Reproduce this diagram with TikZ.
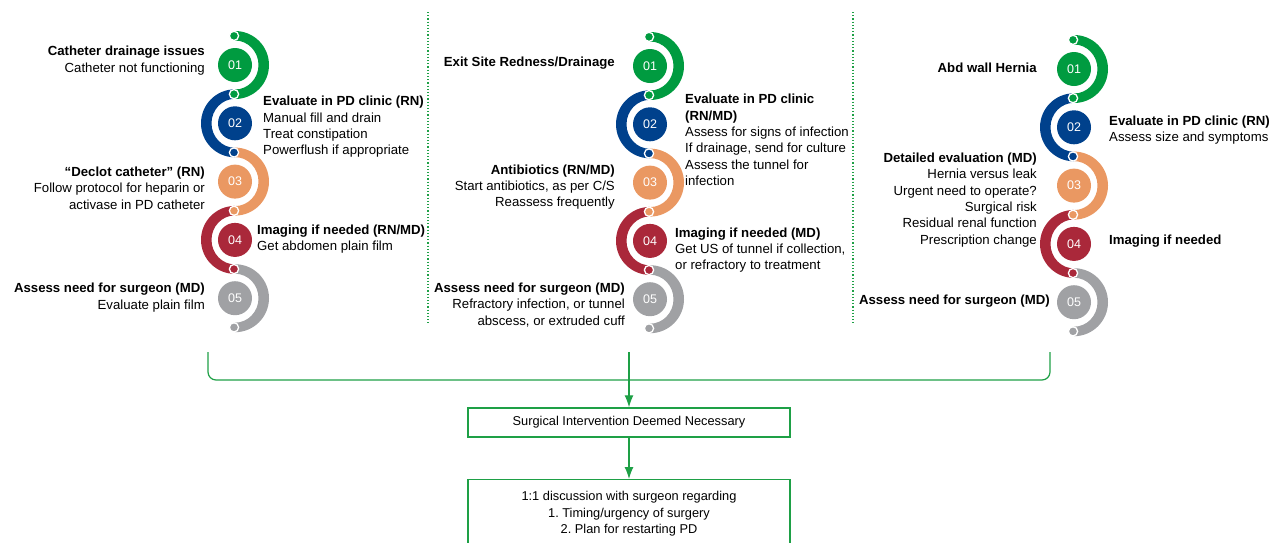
\documentclass[tikz,border=0pt]{standalone}
\usepackage{fontspec}
\setmainfont{Liberation Sans}
\usetikzlibrary{arrows.meta}
\definecolor{stepgreen}{RGB}{0,155,64}
\definecolor{stepblue}{RGB}{0,65,140}
\definecolor{steporange}{RGB}{234,152,98}
\definecolor{stepred}{RGB}{170,40,58}
\definecolor{stepgray}{RGB}{160,161,164}
\definecolor{linegreen}{RGB}{30,160,70}
\frenchspacing

\begin{document}
\begin{tikzpicture}[x=1pt, y=-1pt,
    num/.style={circle, minimum size=34pt, inner sep=0pt, text=white, font=\fontsize{12.5}{14}\selectfont},
    lefttxt/.style={anchor=east, align=right, inner sep=0pt, font=\fontsize{13.2}{16.3}\selectfont},
    righttxt/.style={anchor=west, align=left, inner sep=0pt, font=\fontsize{13.2}{16.3}\selectfont},
    flowbox/.style={draw=linegreen, line width=1.4pt, minimum width=322pt, align=center, font=\fontsize{12.8}{16.8}\selectfont},
    flow/.style={draw=linegreen, line width=1.2pt}]
        \useasboundingbox (0,0) rectangle (1272,542);
        \clip (0,0) rectangle (1272,542);

        % Column separators
        \draw[linegreen, dotted, line width=1.2pt] (428,12) -- (428,323);
        \draw[linegreen, dotted, line width=1.2pt] (853,12) -- (853,323);

        % Step chains (drawn bottom up so each joint sits on the next arc)
        \foreach \k/\cx/\cy in {1/235/65, 2/650/66, 3/1074/69} {
            \foreach \i/\col in {5/stepgray, 4/stepred, 3/steporange, 2/stepblue, 1/stepgreen} {
                \pgfmathsetmacro\yy{\cy+58.3*(\i-1)}
                \pgfmathsetmacro\ea{mod(\i,2)==1 ? -90 : 270}
                \fill[\col] (\cx,\yy-34) arc[start angle=90, end angle=\ea, x radius=34pt, y radius=34pt]
                    -- (\cx,\yy+24.5) arc[start angle=\ea, end angle=90, x radius=23.5pt, y radius=24.5pt] -- cycle;
                \node[num, fill=\col] (c\k\i) at (\cx,\yy) {0\i};
                \filldraw[fill=\col, draw=white, line width=1.3pt] (\cx-1,\yy+29.15) circle (4.6pt);
            }
            \filldraw[fill=stepgreen, draw=white, line width=1.3pt] (\cx-1,\cy-29.15) circle (4.6pt);
        }

        % Catheter drainage column
        \node[lefttxt] (t1a) at (205,60.5) {\textbf{Catheter drainage issues}\\Catheter not functioning};
        \node[righttxt] (t1b) at (263,127) {\textbf{Evaluate in PD clinic (RN)}\\Manual fill and drain\\Treat constipation\\Powerflush if appropriate};
        \node[lefttxt] (t1c) at (205,188) {\textbf{“Declot catheter” (RN)}\\Follow protocol for heparin or\\activase in PD catheter};
        \node[righttxt] (t1d) at (257,239) {\textbf{Imaging if needed (RN/MD)}\\Get abdomen plain film};
        \node[lefttxt] (t1e) at (205,297.5) {\textbf{Assess need for surgeon (MD)}\\Evaluate plain film};

        % Exit site column
        \node[lefttxt] (t2a) at (615,63) {\textbf{Exit Site Redness/Drainage}};
        \node[righttxt] (t2b) at (685,140) {\textbf{Evaluate in PD clinic}\\\textbf{(RN/MD)}\\Assess for signs of infection\\If drainage, send for culture\\Assess the tunnel for\\infection};
        \node[lefttxt] (t2c) at (615,187) {\textbf{Antibiotics (RN/MD)}\\Start antibiotics, as per C/S\\Reassess frequently};
        \node[righttxt] (t2d) at (675,250) {\textbf{Imaging if needed (MD)}\\Get US of tunnel if collection,\\or refractory to treatment};
        \node[lefttxt] (t2e) at (625,305) {\textbf{Assess need for surgeon (MD)}\\Refractory infection, or tunnel\\abscess, or extruded cuff};

        % Hernia column
        \node[lefttxt] (t3a) at (1037,68) {\textbf{Abd wall Hernia}};
        \node[righttxt] (t3b) at (1109,130) {\textbf{Evaluate in PD clinic (RN)}\\Assess size and symptoms};
        \node[lefttxt] (t3c) at (1037,200) {\textbf{Detailed evaluation (MD)}\\Hernia versus leak\\Urgent need to operate?\\Surgical risk\\Residual renal function\\Prescription change};
        \node[righttxt] (t3d) at (1109,241) {\textbf{Imaging if needed}};
        \node[lefttxt] (t3e) at (1050,301) {\textbf{Assess need for surgeon (MD)}};

        % Joining bracket and outcome boxes
        \coordinate (hookL) at (208,352);
        \coordinate (hookM) at (629,352);
        \coordinate (hookR) at (1050,352);
        \node[flowbox, minimum height=29pt] (surg) at (629,422.5) {Surgical Intervention Deemed Necessary};
        \node[flowbox, minimum height=68pt, anchor=north] (talk) at (629,479) {1:1 discussion with surgeon regarding\\1. Timing/urgency of surgery\\2. Plan for restarting PD};
        \draw[flow, rounded corners=8pt] (hookL) -- (208,380) -- (1050,380) -- (hookR);
        \draw[flow, -{Latex[length=12pt, width=9pt]}] (hookM) -- (surg);
        \draw[flow, -{Latex[length=12pt, width=9pt]}] (surg) -- (talk);
    \end{tikzpicture}
\end{document}
